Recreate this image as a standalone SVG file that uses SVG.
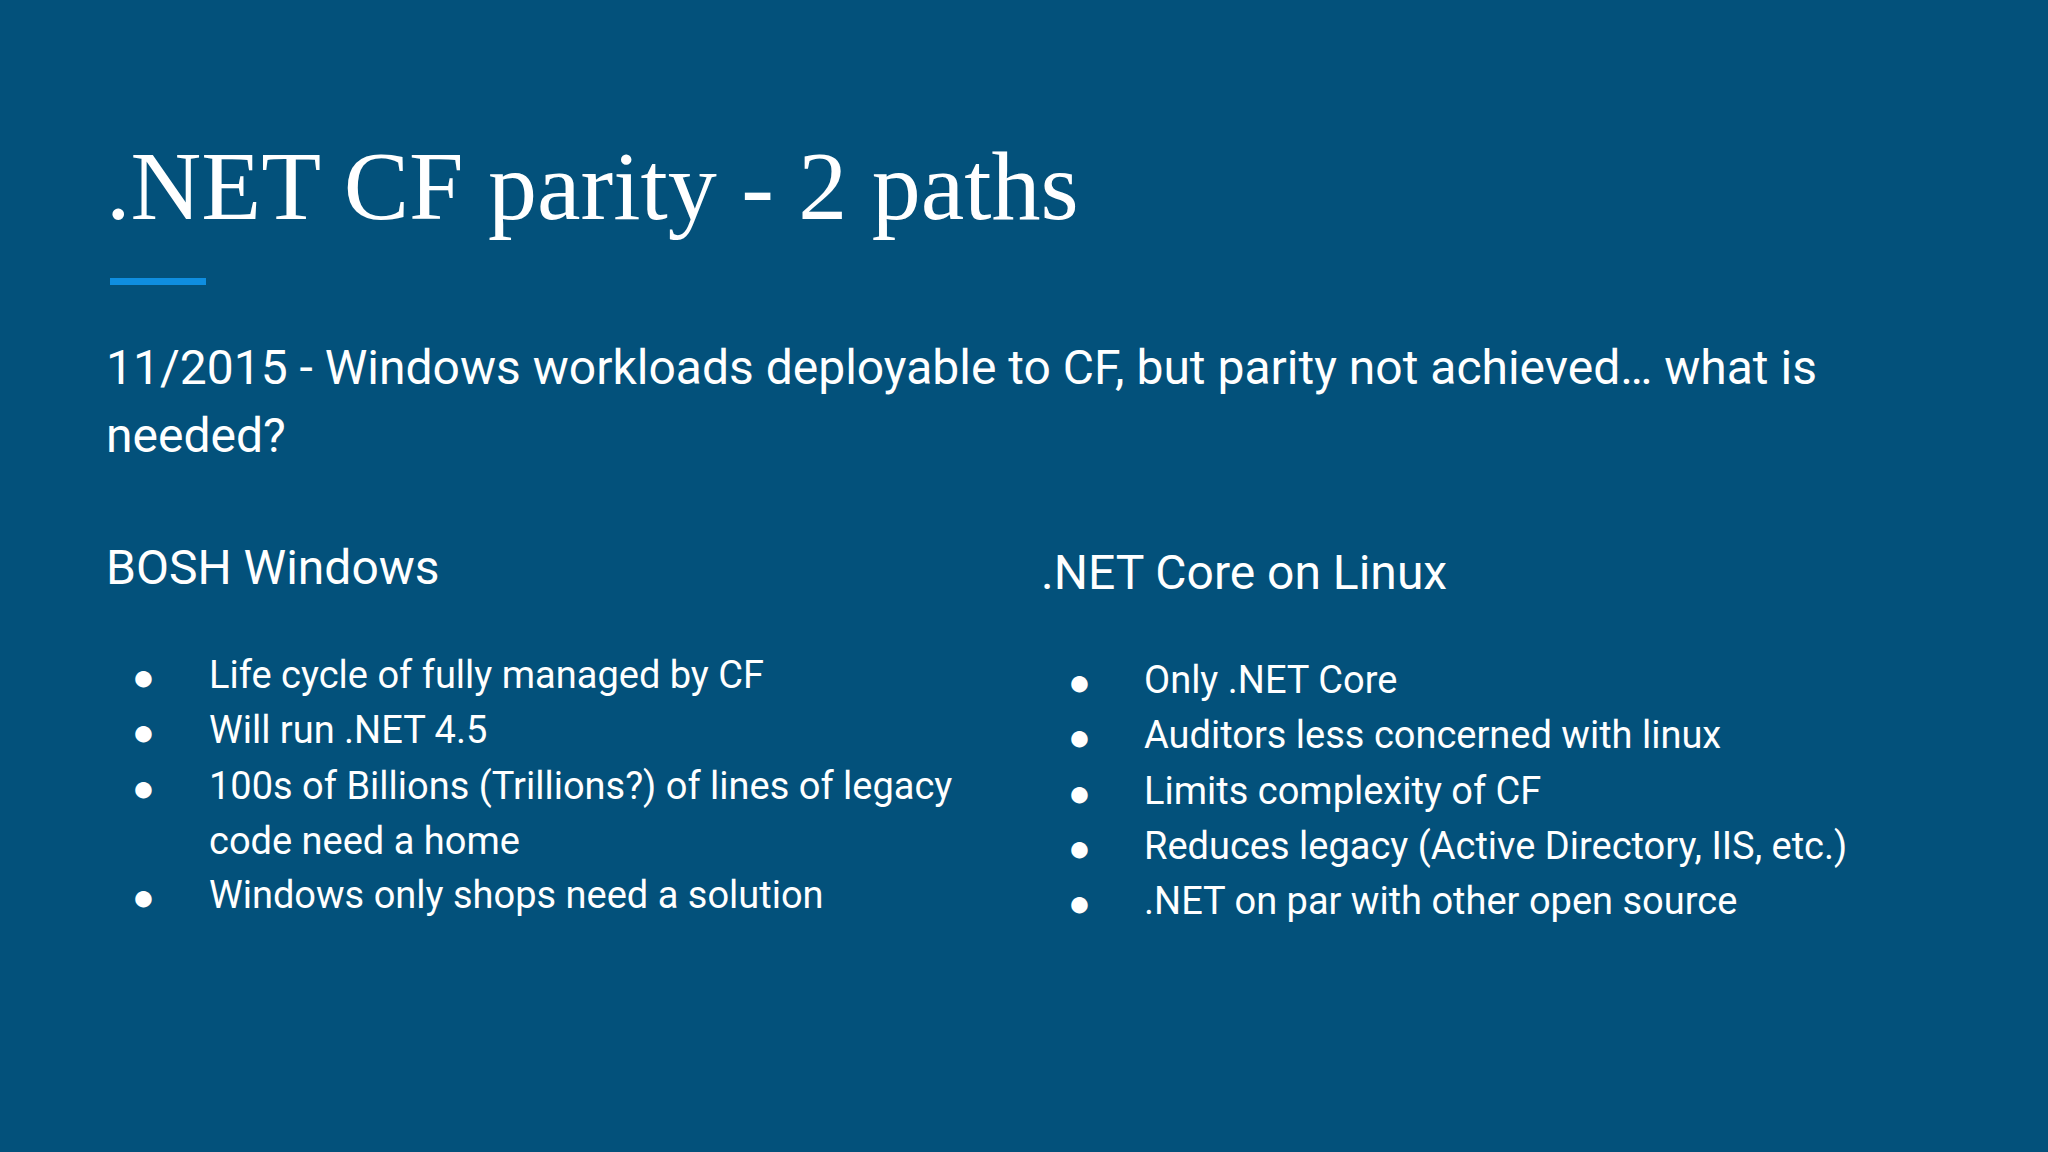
<svg xmlns="http://www.w3.org/2000/svg" width="2048" height="1152" viewBox="0 0 2048 1152">
<style>
.t{font-family:Roboto,"Liberation Sans",sans-serif;fill:#ffffff}
.b{font-size:38px}
.h{font-size:48px}
</style>
<rect width="2048" height="1152" fill="#03517b"/>
<g id="title"><text x="106" y="219" font-family="'Liberation Serif',serif" font-size="98" fill="#fff">.NET CF parity - 2 paths</text>
<rect x="110" y="278" width="96" height="7" fill="#0f8ee0"/></g>
<g id="subtitle" class="t" font-size="48"><text x="106" y="384">11/2015 - Windows workloads deployable to CF, but parity not achieved… what is</text><text x="106" y="452">needed?</text></g>
<g id="left" class="t">
<text class="h" x="106" y="584">BOSH Windows</text>
<g class="b">
<text x="132" y="690">●</text><text x="209" y="688">Life cycle of fully managed by CF</text>
<text x="132" y="745">●</text><text x="209" y="743">Will run .NET 4.5</text>
<text x="132" y="801">●</text><text x="209" y="799">100s of Billions (Trillions?) of lines of legacy</text>
<text x="209" y="854">code need a home</text>
<text x="132" y="910">●</text><text x="209" y="908">Windows only shops need a solution</text>
</g></g>
<g id="right" class="t">
<text class="h" x="1041" y="589">.NET Core on Linux</text>
<g class="b">
<text x="1068" y="695">●</text><text x="1144" y="693">Only .NET Core</text>
<text x="1068" y="750">●</text><text x="1144" y="748">Auditors less concerned with linux</text>
<text x="1068" y="806">●</text><text x="1144" y="804">Limits complexity of CF</text>
<text x="1068" y="861">●</text><text x="1144" y="859">Reduces legacy (Active Directory, IIS, etc.)</text>
<text x="1068" y="916">●</text><text x="1144" y="914">.NET on par with other open source</text>
</g></g>
</svg>
